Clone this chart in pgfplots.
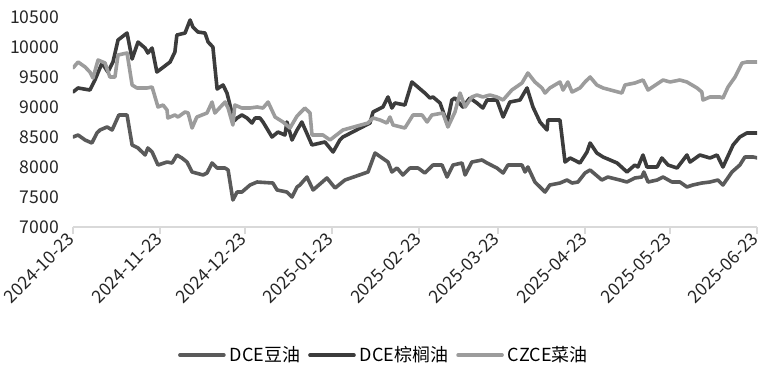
\documentclass[border=0pt]{standalone}
\usepackage{pgfplots}
\pgfplotsset{compat=1.18}
\usepackage{fontspec}
\setmainfont{Noto Sans CJK SC}
\definecolor{soy}{HTML}{5A5A5A}
\definecolor{palm}{HTML}{3C3C3C}
\definecolor{rape}{HTML}{9C9C9C}
\definecolor{axgray}{HTML}{D9D9D9}
\begin{document}
\begin{tikzpicture}
\useasboundingbox (-36.5pt,-74pt) rectangle (348.5pt,113.5pt);
\begin{axis}[
  scale only axis, width=342pt, height=105pt,
  xmin=0, xmax=243, ymin=7000, ymax=10500,
  axis x line*=bottom, axis y line*=left,
  x axis line style={axgray, line width=1pt},
  y axis line style={draw=none},
  xtick={0,31,61,92,123,151,182,212,243},
  xticklabels={2024-10-23,2024-11-23,2024-12-23,2025-01-23,2025-02-23,2025-03-23,2025-04-23,2025-05-23,2025-06-23},
  xticklabel style={rotate=45, anchor=east, font=\fontsize{8.8}{10}\selectfont, inner sep=1pt, text=black!85},
  x tick style={axgray, line width=1pt}, tick align=outside, major tick length=3.5pt,
  ytick={7000,7500,...,10500},
  scaled y ticks=false,
  y tick style={draw=none},
  yticklabel style={font=\fontsize{8.8}{10}\selectfont, text=black!85},
  /pgf/number format/1000 sep={},
  /pgf/number format/assume math mode=true,
  legend style={at={(0.456,-0.61)}, anchor=center, draw=none, fill=none, legend columns=3, font=\fontsize{9}{10}\selectfont, inner sep=0pt,
    /tikz/every even column/.append style={column sep=2pt}},
  legend image code/.code={\draw[#1, line width=1.8pt] (0pt,0pt) -- (22pt,0pt);},
  every axis plot/.append style={line width=1.8pt, line join=round, line cap=round},
]
\addplot[soy] coordinates {
(0,8500) (1.8,8533) (4.3,8450) (6.7,8400) (8.5,8567) (9.6,8617) (12.1,8667) (13.9,8617) (16.3,8867) (19.2,8867) (21,8367) (23.1,8317) (25.6,8200) (26.6,8317) (28.1,8250) (30.2,8033) (33.4,8083) (35.2,8067) (36.9,8200) (38.7,8150) (40.5,8083) (42.3,7917) (46.2,7867) (47.6,7900) (49.4,8067) (51.2,7983) (54,7983) (55.1,7950) (56.8,7450) (58.3,7583) (60,7583) (62.9,7700) (65.4,7750) (71,7733) (72.5,7617) (76,7583) (77.8,7500) (79.6,7667) (80.6,7700) (83.1,7833) (85.3,7617) (90.2,7817) (93.1,7650) (96.6,7783) (104.8,7917) (107.3,8233) (111.9,8083) (113.3,7917) (115.1,7983) (117.2,7867) (119.7,7983) (122.6,7983) (125,7900) (127.9,8033) (131.1,8033) (132.9,7833) (135,8033) (138.2,8067) (139.3,7867) (141.7,8083) (145.3,8117) (147.1,8067) (150.6,7983) (152.8,7900) (154.5,8033) (159.5,8033) (160.6,7917) (161.6,8000) (164.1,7750) (167.7,7583) (169.4,7700) (173,7733) (175.5,7783) (177.3,7733) (179.4,7750) (181.9,7900) (183.7,7950) (187.9,7783) (190,7833) (194.3,7783) (196.8,7750) (199.6,7817) (202.1,7833) (202.8,7917) (204.3,7750) (207.5,7783) (209.6,7833) (212.8,7750) (215.6,7750) (218.1,7667) (220.2,7700) (223.4,7733) (226.3,7750) (229.1,7783) (230.9,7700) (234.1,7917) (236.9,8033) (238.7,8167) (241.6,8167) (243.3,8150)
};
\addlegendentry{DCE豆油}
\addplot[palm] coordinates {
(0,9250) (1.8,9317) (6,9283) (7.8,9450) (10.3,9733) (12.4,9583) (14.2,9750) (16,10117) (19.2,10233) (21,9800) (23.1,10083) (25.6,9983) (26.6,9900) (28.1,9983) (29.8,9583) (34.5,9750) (36.2,9917) (36.9,10200) (39.8,10233) (41.6,10450) (42.6,10333) (44.4,10250) (46.9,10233) (48,10083) (49.7,10000) (51.2,9300) (53.3,9367) (54.7,9233) (56.5,8900) (56.8,8750) (58.3,8817) (60,8867) (61.8,8817) (63.6,8733) (64.7,8817) (66.4,8817) (67.5,8750) (70.7,8500) (72.8,8583) (75.3,8533) (76,8750) (77.8,8450) (79.6,8617) (81.3,8750) (84.9,8367) (89.5,8417) (92.4,8250) (94.8,8450) (95.9,8500) (105.5,8733) (106.6,8917) (110.1,9000) (111.9,9167) (113.3,8983) (114.4,9067) (117.9,9033) (120.4,9417) (125,9233) (126.8,9150) (127.9,9167) (130.4,9067) (132.9,8733) (134.6,9117) (135.7,9150) (138.5,9000) (141,9150) (143.5,9067) (145.6,8983) (147.1,9117) (150.6,9117) (152.8,8833) (155.2,9083) (158.8,9117) (161.3,9317) (163.4,9000) (165.9,8750) (168.4,8617) (168.7,8783) (173,8783) (174.8,8083) (176.6,8150) (180.1,8067) (182.6,8250) (183.7,8400) (186.1,8233) (188.3,8167) (193.3,8067) (196.8,7917) (199.6,8033) (200.7,8000) (202.5,8200) (203.9,8000) (207.5,8000) (209.2,8150) (211.4,8033) (214.6,7983) (218.1,8200) (219.2,8083) (222.7,8200) (226.3,8150) (228.8,8200) (230.9,8000) (234.5,8367) (236.9,8500) (239.4,8567) (243.3,8567)
};
\addlegendentry{DCE棕榈油}
\addplot[rape] coordinates {
(0,9650) (1.8,9750) (4.3,9667) (6,9583) (7.1,9483) (8.9,9783) (11.4,9733) (13.1,9500) (14.9,9500) (16,9867) (19.2,9900) (21,9367) (22.7,9317) (26.3,9317) (28.1,9333) (30.2,9000) (32,9033) (33.4,8950) (33.7,8817) (36.2,8867) (37.3,8833) (39.8,8917) (40.9,8900) (42.3,8650) (44,8833) (47.6,8900) (49.4,9083) (50.4,8900) (54,9083) (55.1,8983) (56.8,8700) (57.5,9033) (60,8983) (62.9,8983) (65.4,9000) (67.5,8983) (69.3,9083) (71.8,8833) (74.6,8750) (77.1,8650) (79.6,8850) (82.4,8983) (84.2,8900) (84.9,8533) (88.8,8533) (91.3,8450) (95.9,8617) (104.8,8733) (106.6,8817) (109.1,8783) (111.5,8733) (112.6,8833) (113.7,8700) (117.9,8650) (120.8,8867) (124,8867) (125.8,8750) (127.5,8867) (131.4,8900) (133.2,8667) (135.7,8917) (137.5,9233) (139.3,9000) (141.7,9167) (143.5,9200) (145.6,9167) (148.1,9200) (150.6,9167) (152.8,9117) (155.9,9283) (159.5,9400) (161.6,9567) (164.1,9417) (166.6,9317) (167.7,9233) (169.4,9317) (173,9417) (174.1,9283) (175.8,9417) (177.3,9250) (180.1,9317) (181.9,9417) (183.7,9500) (186.1,9367) (188.3,9317) (195,9233) (196.1,9367) (199.6,9400) (202.5,9450) (204.3,9283) (209.6,9450) (212.1,9417) (215.6,9450) (218.1,9417) (221.7,9317) (223.4,9250) (223.8,9117) (226.3,9167) (229.8,9167) (230.9,9150) (232.7,9333) (235.2,9500) (237.7,9733) (239.4,9750) (243.3,9750)
};
\addlegendentry{CZCE菜油}
\end{axis}
\end{tikzpicture}
\end{document}
